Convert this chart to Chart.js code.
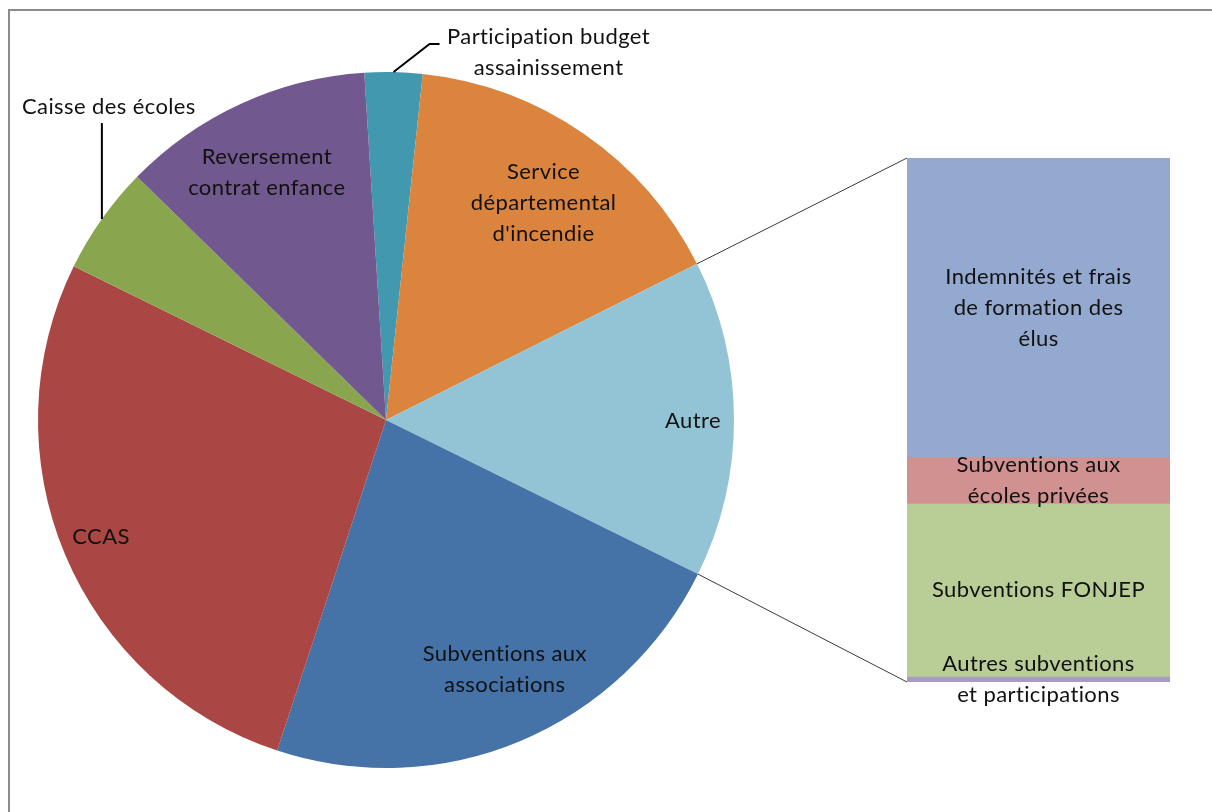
<!DOCTYPE html>
<html>
<head>
<meta charset="utf-8">
<title>Répartition des subventions et participations</title>
<script src="https://cdn.jsdelivr.net/npm/chart.js@4.4.0/dist/chart.umd.min.js"></script>
<style>
 body{margin:0;background:#fff;overflow:hidden}
 #wrap{position:relative;width:1212px;height:812px;overflow:hidden}
 #frame{position:absolute;left:8px;top:9px;width:1300px;height:900px;border-left:2px solid #8c8c8c;border-top:2px solid #8c8c8c}
 canvas{position:absolute;left:0;top:0}
</style>
</head>
<body>
<div id="wrap">
 <div id="frame"></div>
 <canvas id="pie" width="1212" height="812"></canvas>
 <canvas id="bar" width="1212" height="812"></canvas>
</div>
<script>
// détail du poste "Autre" (k€)
var detailLabels = ["Indemnités et frais\nde formation des\nélus", "Subventions aux\nécoles privées", "Subventions FONJEP", "Autres subventions\net participations"];
var detailValues = [83.9, 13.1, 48.5, 1.6];
var detailColors = ["#94a9cf", "#d19190", "#b9cd96", "#a99bbd"];

// postes principaux (k€), "Autre" = somme du détail
var autreTotal = detailValues.reduce(function(a, b){ return a + b; }, 0);
var pieLabels = ["Participation budget\nassainissement", "Service\ndépartemental\nd'incendie", "Autre", "Subventions aux\nassociations", "CCAS", "Caisse des écoles", "Reversement\ncontrat enfance"];
var pieValues = [26.8, 159.1, autreTotal, 227.6, 272.2, 50.4, 116.9];
var pieColors = ["#4198af", "#db843d", "#93c4d5", "#4572a7", "#aa4643", "#89a54e", "#71588f"];

var FONT = "22px Lato";
var SPACING = "0.4px"; // évite aussi les ligatures "ti" de Lato
var LINE = 31;
var DEG = Math.PI / 180;

// position des étiquettes : r = fraction du rayon, da = décalage angulaire (°)
// leader = points de la ligne de rappel depuis le bord, dx/dy = centre du texte
var piePlacement = [
  {leader: [[36, -28], [46, -28]], dx: 155, dy: -19.5},
  {r: 0.77, da: 1.3},
  {r: 0.882, da: 0.4},
  {r: 0.794, da: -2.7},
  {r: 0.885, da: 0.5},
  {leader: [[0, -96]], dx: 7, dy: -112.5},
  {r: 0.789, da: -1.1}
];

function setText(ctx){
  ctx.font = FONT;
  ctx.letterSpacing = SPACING;
  ctx.fillStyle = "#111";
  ctx.textAlign = "center";
  ctx.textBaseline = "middle";
}

function drawLines(ctx, text, x, y){
  var lines = text.split("\n");
  lines.forEach(function(t, k){
    ctx.fillText(t, x, y + (k - (lines.length - 1) / 2) * LINE);
  });
}

var pieLabelPlugin = {
  id: "pieLabels",
  afterDatasetsDraw: function(chart){
    var ctx = chart.ctx;
    var arcs = chart.getDatasetMeta(0).data;
    ctx.save();
    setText(ctx);
    arcs.forEach(function(arc, i){
      var p = arc.getProps(["x", "y", "startAngle", "endAngle", "outerRadius"], true);
      var mid = (p.startAngle + p.endAngle) / 2;
      var pl = piePlacement[i];
      var tx, ty;
      if (pl.leader) {
        var ex = p.x + Math.cos(mid) * p.outerRadius;
        var ey = p.y + Math.sin(mid) * p.outerRadius;
        ctx.beginPath();
        ctx.moveTo(ex, ey);
        pl.leader.forEach(function(pt){ ctx.lineTo(ex + pt[0], ey + pt[1]); });
        ctx.strokeStyle = "#000";
        ctx.lineWidth = 2;
        ctx.stroke();
        tx = ex + pl.dx;
        ty = ey + pl.dy;
      } else {
        var a = mid + pl.da * DEG;
        var r = p.outerRadius * pl.r;
        tx = p.x + Math.cos(a) * r;
        ty = p.y + Math.sin(a) * r;
      }
      drawLines(ctx, pieLabels[i], tx, ty);
    });
    ctx.restore();
  }
};

var pieChart = new Chart(document.getElementById("pie"), {
  type: "pie",
  data: {
    labels: pieLabels,
    datasets: [{
      data: pieValues,
      backgroundColor: pieColors,
      borderWidth: 0
    }]
  },
  options: {
    responsive: false,
    animation: false,
    rotation: -3.58,
    radius: 348,
    layout: {padding: {left: 38, right: 478, top: 72, bottom: 44}},
    plugins: {legend: {display: false}, tooltip: {enabled: false}}
  },
  plugins: [pieLabelPlugin]
});

var barPlugin = {
  id: "barLabels",
  afterDatasetsDraw: function(chart){
    var ctx = chart.ctx;
    var area = chart.chartArea;
    // lignes de liaison entre la part "Autre" et la barre
    var arc = pieChart.getDatasetMeta(0).data[2];
    var p = arc.getProps(["x", "y", "startAngle", "endAngle", "outerRadius"], true);
    ctx.save();
    ctx.strokeStyle = "#3a3a3a";
    ctx.lineWidth = 1;
    ctx.beginPath();
    ctx.moveTo(p.x + Math.cos(p.startAngle) * p.outerRadius, p.y + Math.sin(p.startAngle) * p.outerRadius);
    ctx.lineTo(area.left, area.top);
    ctx.moveTo(p.x + Math.cos(p.endAngle) * p.outerRadius, p.y + Math.sin(p.endAngle) * p.outerRadius);
    ctx.lineTo(area.left, area.bottom);
    ctx.stroke();

    setText(ctx);
    chart.data.datasets.forEach(function(ds, i){
      var bar = chart.getDatasetMeta(i).data[0];
      drawLines(ctx, detailLabels[i], bar.x, (bar.y + bar.base) / 2);
    });
    ctx.restore();
  }
};

new Chart(document.getElementById("bar"), {
  type: "bar",
  data: {
    labels: ["Autre"],
    datasets: detailLabels.map(function(l, i){
      return {
        label: l,
        data: [detailValues[i]],
        backgroundColor: detailColors[i],
        borderWidth: 0,
        barPercentage: 1,
        categoryPercentage: 1
      };
    })
  },
  options: {
    responsive: false,
    animation: false,
    layout: {padding: {left: 907, right: 42, top: 158, bottom: 130}},
    scales: {
      x: {display: false, stacked: true},
      y: {display: false, stacked: true, reverse: true, min: 0, max: autreTotal}
    },
    plugins: {legend: {display: false}, tooltip: {enabled: false}}
  },
  plugins: [barPlugin]
});
</script>
</body>
</html>
